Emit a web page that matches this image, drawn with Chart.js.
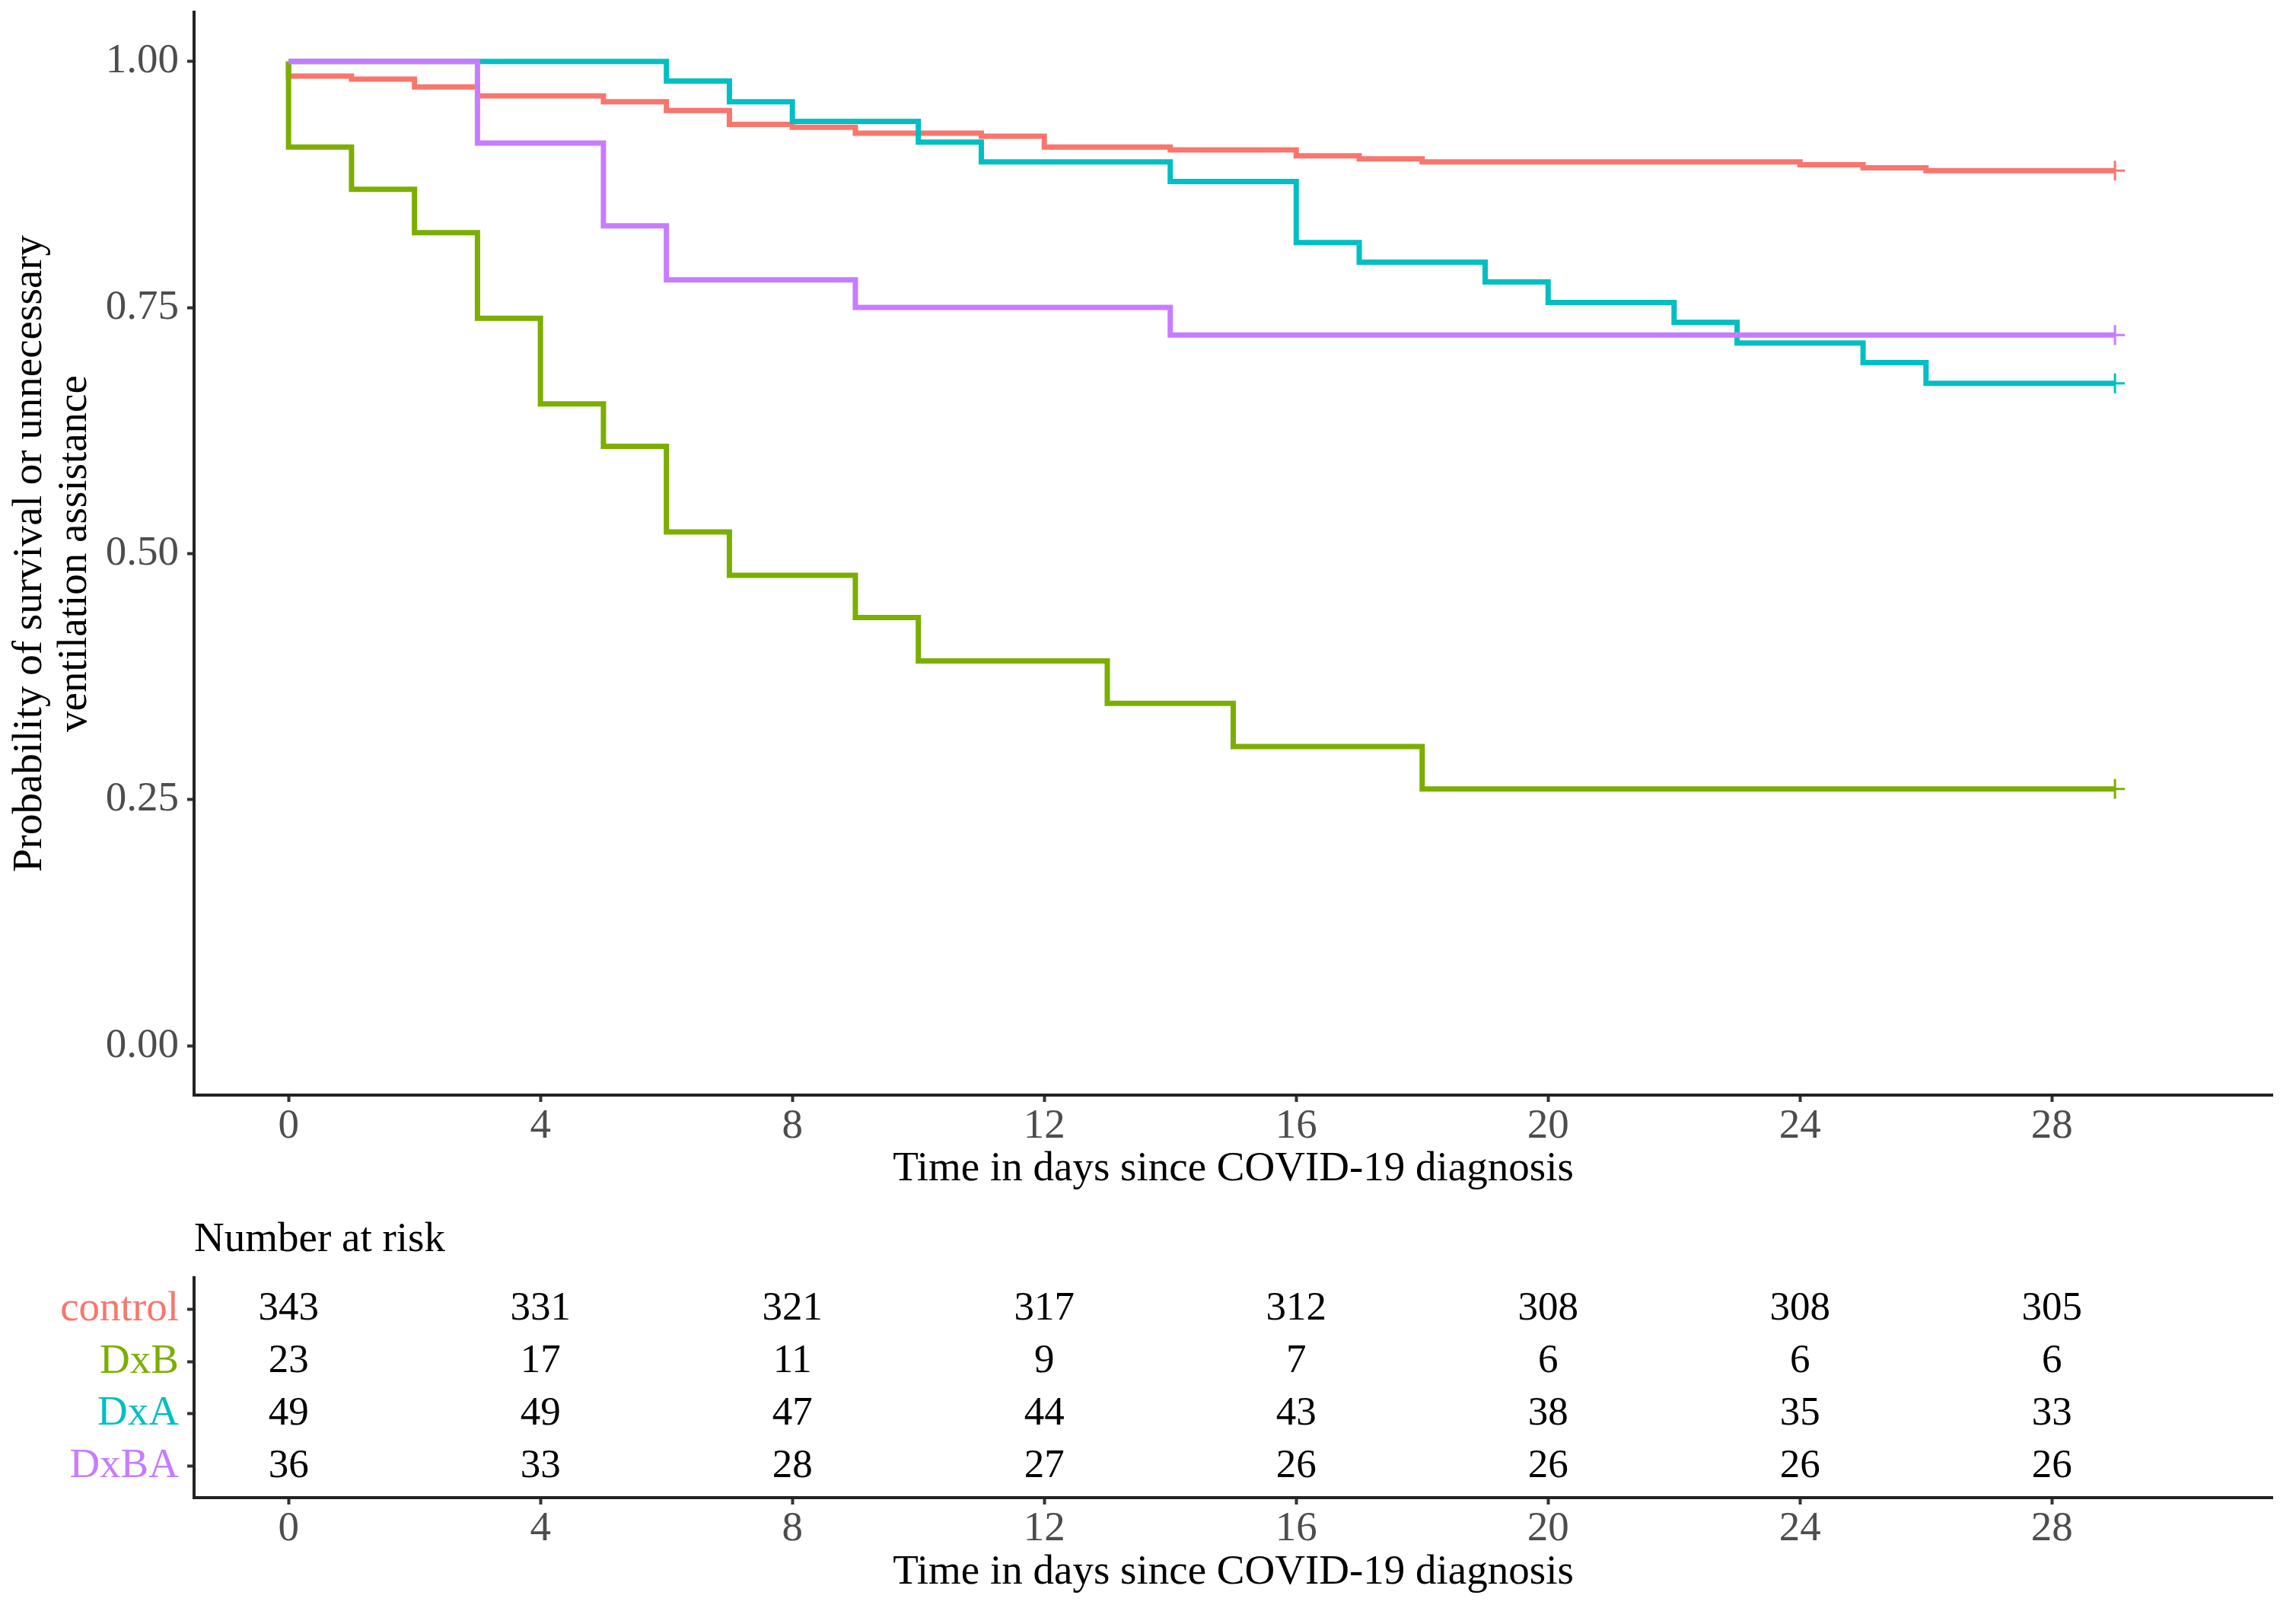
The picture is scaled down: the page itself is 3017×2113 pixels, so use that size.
<!DOCTYPE html>
<html>
<head>
<meta charset="utf-8">
<script src="https://cdn.jsdelivr.net/npm/chart.js@4.4.0/dist/chart.umd.min.js"></script>
<style>
  html, body { margin: 0; padding: 0; background: #fff; }
  #wrap { position: relative; width: 3017px; height: 2113px; }
  #surv { position: absolute; left: 0; top: 0; width: 3017px; height: 1590px; }
  #risk { position: absolute; left: 0; top: 1590px; width: 3017px; height: 523px; }
</style>
</head>
<body>
<div id="wrap">
  <canvas id="surv" width="3017" height="1590"></canvas>
  <canvas id="risk" width="3017" height="523"></canvas>
</div>
<script>
// groups and colours (ggplot default hues)
const groups = ["control", "DxB", "DxA", "DxBA"];
const colors = ["#F8766D", "#7CAE00", "#00BFC4", "#C77CFF"];

// Kaplan-Meier steps: time of each drop and the new value
const controlTime = [0, 0, 1, 2, 3, 5, 6, 7, 8, 9, 11, 12, 14, 16, 17, 18, 24, 25, 26, 29];
const controlSurv = [1, 0.985, 0.982, 0.974, 0.965, 0.959, 0.950, 0.936, 0.933, 0.927, 0.924, 0.913, 0.910, 0.904, 0.901, 0.898, 0.895, 0.892, 0.889, 0.889];

const dxbTime = [0, 0, 1, 2, 3, 4, 5, 6, 7, 9, 10, 13, 15, 18, 29];
const dxbSurv = [1, 0.913, 0.870, 0.826, 0.739, 0.652, 0.609, 0.522, 0.478, 0.435, 0.391, 0.348, 0.304, 0.261, 0.261];

const dxaTime = [0, 6, 7, 8, 10, 11, 14, 16, 17, 19, 20, 22, 23, 25, 26, 29];
const dxaSurv = [1, 0.980, 0.959, 0.939, 0.918, 0.898, 0.878, 0.816, 0.796, 0.776, 0.755, 0.735, 0.714, 0.694, 0.673, 0.673];

const dxbaTime = [0, 3, 5, 6, 9, 14, 29];
const dxbaSurv = [1, 0.917, 0.833, 0.778, 0.750, 0.722, 0.722];

// number at risk table
const riskTimes = [0, 4, 8, 12, 16, 20, 24, 28];
const riskControl = [343, 331, 321, 317, 312, 308, 308, 305];
const riskDxB = [23, 17, 11, 9, 7, 6, 6, 6];
const riskDxA = [49, 49, 47, 44, 43, 38, 35, 33];
const riskDxBA = [36, 33, 28, 27, 26, 26, 26, 26];

// axis breaks
const xBreaks = [0, 4, 8, 12, 16, 20, 24, 28];
const yBreaks = [0, 0.25, 0.5, 0.75, 1];

Chart.defaults.font.family = "'Liberation Serif', 'Times New Roman', serif";
Chart.defaults.font.size = 55;

const toPoints = (t, s) => t.map((v, i) => ({ x: v, y: s[i] }));
const curves = [
  toPoints(controlTime, controlSurv),
  toPoints(dxbTime, dxbSurv),
  toPoints(dxaTime, dxaSurv),
  toPoints(dxbaTime, dxbaSurv),
];

const gridStyle = { display: true, drawOnChartArea: false, drawTicks: true, tickLength: 9, tickWidth: 4, tickColor: "#333333" };
const borderStyle = { display: true, color: "#222222", width: 4 };

// stop chart.js from reserving room for the end tick labels
const noEdgePadding = (s) => {
  s.paddingTop = 0;
  s.paddingBottom = 0;
  s.paddingLeft = 0;
  s.paddingRight = 0;
};

function timeAxis(height, titlePad) {
  return {
    type: "linear",
    min: -1.5,
    max: 31.5,
    afterBuildTicks: (s) => { s.ticks = xBreaks.map((v) => ({ value: v })); },
    afterFit: (s) => { s.height = height; noEdgePadding(s); },
    ticks: { color: "#4D4D4D", padding: 0, maxRotation: 0, autoSkip: false },
    grid: gridStyle,
    border: borderStyle,
    title: {
      display: true,
      text: "Time in days since COVID-19 diagnosis",
      color: "#000000",
      padding: { top: 0, bottom: titlePad },
    },
  };
}

// survival curves
const survChart = new Chart(document.getElementById("surv"), {
  type: "line",
  data: {
    datasets: groups.map((g, i) => ({
      label: g,
      data: curves[i],
      stepped: true,
      borderColor: colors[i],
      backgroundColor: colors[i],
      borderWidth: 7,
      fill: false,
      order: 4 - i,
      pointStyle: "cross",
      pointRadius: (c) => (c.dataIndex === c.dataset.data.length - 1 ? 13 : 0),
      pointHoverRadius: 0,
      pointBorderWidth: 3,
      pointBorderColor: colors[i],
    })),
  },
  options: {
    responsive: false,
    devicePixelRatio: 1,
    animation: false,
    layout: { padding: { left: 0, right: 31, top: 15, bottom: 0 } },
    plugins: { legend: { display: false }, tooltip: { enabled: false } },
    scales: {
      x: timeAxis(151, 20),
      y: {
        type: "linear",
        min: -0.05,
        max: 1.05,
        afterBuildTicks: (s) => { s.ticks = yBreaks.map((v) => ({ value: v })); },
        afterFit: (s) => { s.width = 255; noEdgePadding(s); },
        ticks: { callback: (v) => v.toFixed(2), color: "#4D4D4D", padding: 11 },
        grid: gridStyle,
        border: borderStyle,
        title: {
          display: true,
          text: ["Probability of survival or unnecessary", "ventilation assistance"],
          color: "#000000",
          font: { size: 55, lineHeight: 1.07 },
          padding: { top: 10, bottom: 0 },
        },
      },
    },
  },
});

// risk table numbers and heading
const riskRows = [riskControl, riskDxB, riskDxA, riskDxBA];
const riskNumbers = {
  id: "riskNumbers",
  afterDraw(chart) {
    const { ctx, scales: { x, y } } = chart;
    ctx.save();
    ctx.font = "53px 'Liberation Serif', serif";
    ctx.fillStyle = "#000000";
    ctx.textAlign = "center";
    ctx.textBaseline = "middle";
    riskRows.forEach((row, r) => {
      row.forEach((n, i) => {
        ctx.fillText(String(n), x.getPixelForValue(riskTimes[i]), y.getPixelForValue(r + 1));
      });
    });
    ctx.font = "55px 'Liberation Serif', serif";
    ctx.textAlign = "left";
    ctx.fillText("Number at risk", chart.chartArea.left, 40);
    ctx.restore();
  },
};

const riskChart = new Chart(document.getElementById("risk"), {
  type: "scatter",
  data: { datasets: [] },
  options: {
    responsive: false,
    devicePixelRatio: 1,
    animation: false,
    layout: { padding: { left: 0, right: 31, top: 89, bottom: 0 } },
    plugins: { legend: { display: false }, tooltip: { enabled: false } },
    scales: {
      x: timeAxis(145, 13),
      y: {
        type: "linear",
        reverse: true,
        min: 0.4,
        max: 4.6,
        afterBuildTicks: (s) => { s.ticks = [1, 2, 3, 4].map((v) => ({ value: v })); },
        afterFit: (s) => { s.width = 255; noEdgePadding(s); },
        ticks: {
          callback: (v) => groups[v - 1],
          color: (c) => colors[c.index],
          padding: 11,
        },
        grid: gridStyle,
        border: borderStyle,
      },
    },
  },
  plugins: [riskNumbers],
});
</script>
</body>
</html>
